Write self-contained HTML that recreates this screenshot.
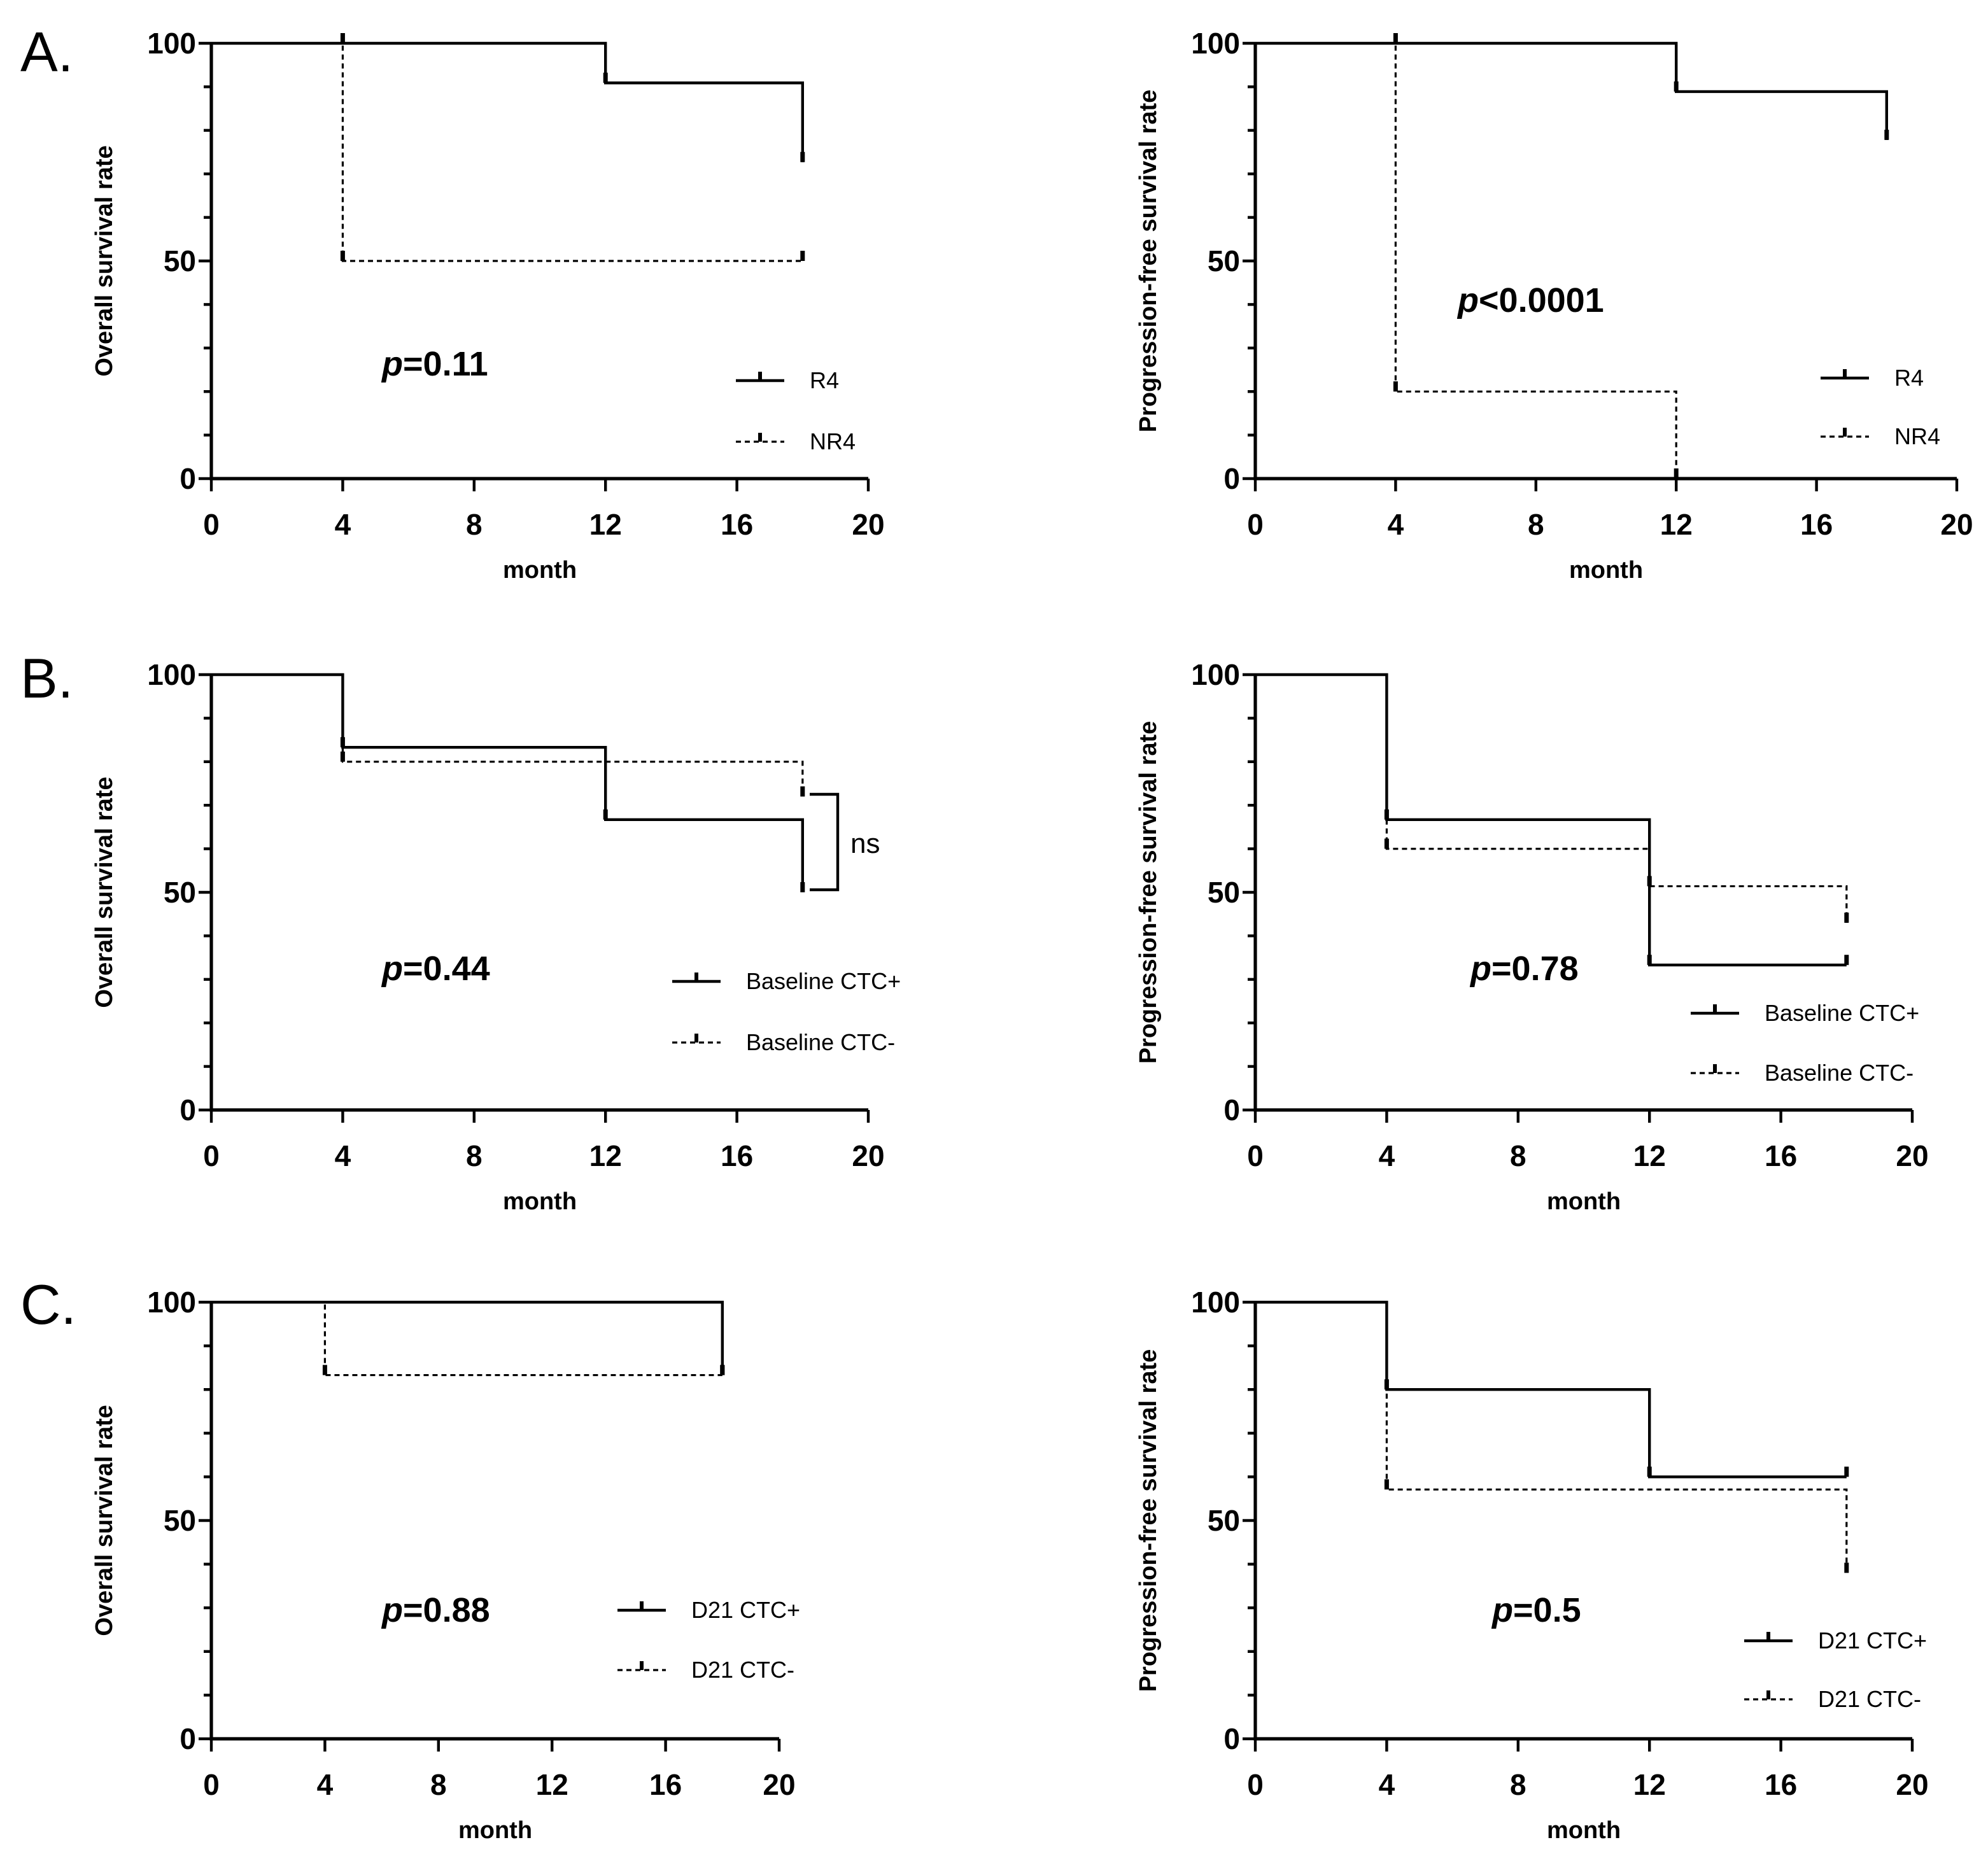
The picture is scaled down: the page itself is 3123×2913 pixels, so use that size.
<!DOCTYPE html>
<html><head><meta charset="utf-8"><style>
html,body{margin:0;padding:0;background:#fff;}
svg{display:block;}
text{font-family:"Liberation Sans",sans-serif;fill:#000;}
.tick{font-weight:bold;font-size:23px;}
.ttl{font-weight:bold;font-size:19px;}
.leg{font-size:18px;}
.pv{font-weight:bold;font-size:27px;}
.lab{font-size:44px;}
</style></head><body>
<svg id="fig" width="3123" height="2913" viewBox="0 0 1561.5 1456.5" xmlns="http://www.w3.org/2000/svg">
<text class="lab" x="16" y="56">A.</text>
<text class="lab" x="16" y="548">B.</text>
<text class="lab" x="16" y="1040">C.</text>
</svg>
<script>
// Panel A left (OS)
const aOsR4T=[0,12,18], aOsR4V=[100,90.9,72.7], aOsR4C=[[12,90.9],[18,72.7]];
const aOsNR4T=[0,4,18], aOsNR4V=[100,50,50], aOsNR4C=[[4,100],[4,50],[18,50]];
// Panel A right (PFS)
const aPfsR4T=[0,12,18], aPfsR4V=[100,88.9,77.8], aPfsR4C=[[12,88.9],[18,77.8]];
const aPfsNR4T=[0,4,12], aPfsNR4V=[100,20,0], aPfsNR4C=[[4,100],[4,20],[12,0]];
// Panel B left
const bOsPosT=[0,4,12,18], bOsPosV=[100,83.3,66.7,50], bOsPosC=[[4,83.3],[12,66.7],[18,50]];
const bOsNegT=[0,4,18], bOsNegV=[100,80,72], bOsNegC=[[4,80],[18,72]];
// Panel B right
const bPfsPosT=[0,4,12,18], bPfsPosV=[100,66.7,33.3,33.3], bPfsPosC=[[4,66.7],[12,33.3],[18,33.3]];
const bPfsNegT=[0,4,12,18], bPfsNegV=[100,60,51.4,43], bPfsNegC=[[4,60],[12,51.4],[18,43]];
// Panel C left
const cOsPosT=[0,18], cOsPosV=[100,83.3], cOsPosC=[[18,83.3]];
const cOsNegT=[0,4,18], cOsNegV=[100,83.3,83.3], cOsNegC=[[4,83.3],[18,83.3]];
// Panel C right
const cPfsPosT=[0,4,12,18], cPfsPosV=[100,80,60,60], cPfsPosC=[[4,80],[12,60],[18,60]];
const cPfsNegT=[0,4,18], cPfsNegV=[100,57.1,38], cPfsNegC=[[4,57.1],[18,38]];
const xTicks=[0,4,8,12,16,20];
const yTicks=[0,50,100];

const NS="http://www.w3.org/2000/svg";
const svg=document.getElementById('fig');
function mk(tag,attrs,parent){const e=document.createElementNS(NS,tag);for(const k in attrs)e.setAttribute(k,attrs[k]);(parent||svg).appendChild(e);return e;}

function panel(id,x0,x1,y100,y0,ytitle,p,pX,pY,legX,legY1,legY2,names,s1,s2){
  const g=mk('g',{});
  
  
  const sx=v=>x0+(x1-x0)*v/20, sy=v=>y0-(y0-y100)*v/100;
  const ax=mk('path',{d:`M${x0},${y100} V${y0} H${x1}`,stroke:'#000','stroke-width':2.6,fill:'none'},g);
  
  
  for(let v=0;v<=100;v+=10){mk('line',{x1:x0-(v%50?6:10),x2:x0,y1:sy(v),y2:sy(v),stroke:'#000','stroke-width':2.2},g);}
  yTicks.forEach(v=>{const t=mk('text',{x:x0-12,y:sy(v)+8,'text-anchor':'end',class:'tick'},g);t.textContent=v;
    
    });
  xTicks.forEach(v=>{mk('line',{x1:sx(v),x2:sx(v),y1:y0,y2:y0+10,stroke:'#000','stroke-width':2.2},g);
    const t=mk('text',{x:sx(v),y:y0+44,'text-anchor':'middle',class:'tick'},g);t.textContent=v;
    
    });
  const xt=mk('text',{x:(x0+x1)/2,y:y0+78,'text-anchor':'middle',class:'ttl'},g);xt.textContent='month';
  
  
  const cy=(y0+y100)/2, cx=x0-84;
  const yt=mk('text',{x:cx,y:cy,'text-anchor':'middle',class:'ttl',transform:`rotate(-90 ${cx} ${cy})`,dy:6},g);yt.textContent=ytitle;
  
  
  const pt=mk('text',{x:pX,y:pY,class:'pv'},g);
  const ps=mk('tspan',{'font-style':'italic'},pt);ps.textContent='p';
  const pr=mk('tspan',{},pt);pr.textContent=p;
  
  
  [s1,s2].forEach((s,i)=>{
    const [T,V,C]=s;let d=`M${sx(T[0])},${sy(V[0])}`;
    for(let k=1;k<T.length;k++){d+=` H${sx(T[k])} V${sy(V[k])}`;}
    const dash=i?{'stroke-dasharray':'4,3'}:{};
    const path=mk('path',Object.assign({d,stroke:'#000','stroke-width':i?1.6:2.2,fill:'none'},dash),g);
    
    
    C.forEach(c=>{const m=mk('line',{x1:sx(c[0]),x2:sx(c[0]),y1:sy(c[1]),y2:sy(c[1])-8,stroke:'#000','stroke-width':3.5},g);
      
      });
    const ly=i?legY2:legY1;
    const ll=mk('line',Object.assign({x1:legX,x2:legX+38,y1:ly,y2:ly,stroke:'#000','stroke-width':i?1.6:2.2},dash),g);
    
    
    mk('line',{x1:legX+19,x2:legX+19,y1:ly,y2:ly-7,stroke:'#000','stroke-width':3},g);
    const lt=mk('text',{x:legX+58,y:ly+6,class:'leg'},g);lt.textContent=names[i];
    
    
  });
  return g;
}
panel('panel-a-os',166,682,34,376,'Overall survival rate','=0.11',300,295,578,299,347,['R4','NR4'],[aOsR4T,aOsR4V,aOsR4C],[aOsNR4T,aOsNR4V,aOsNR4C]);
panel('panel-a-pfs',986,1537,34,376,'Progression-free survival rate','<0.0001',1145,245,1430,297,343,['R4','NR4'],[aPfsR4T,aPfsR4V,aPfsR4C],[aPfsNR4T,aPfsNR4V,aPfsNR4C]);
panel('panel-b-os',166,682,530,872,'Overall survival rate','=0.44',300,770,528,771,819,['Baseline CTC+','Baseline CTC-'],[bOsPosT,bOsPosV,bOsPosC],[bOsNegT,bOsNegV,bOsNegC]);
panel('panel-b-pfs',986,1502,530,872,'Progression-free survival rate','=0.78',1155,770,1328,796,843,['Baseline CTC+','Baseline CTC-'],[bPfsPosT,bPfsPosV,bPfsPosC],[bPfsNegT,bPfsNegV,bPfsNegC]);
panel('panel-c-os',166,612,1023,1366,'Overall survival rate','=0.88',300,1274,485,1265,1312,['D21 CTC+','D21 CTC-'],[cOsPosT,cOsPosV,cOsPosC],[cOsNegT,cOsNegV,cOsNegC]);
panel('panel-c-pfs',986,1502,1023,1366,'Progression-free survival rate','=0.5',1172,1274,1370,1289,1335,['D21 CTC+','D21 CTC-'],[cPfsPosT,cPfsPosV,cPfsPosC],[cPfsNegT,cPfsNegV,cPfsNegC]);
// ns bracket
const br=mk('path',{d:'M636,624 H658 V699 H636',stroke:'#000','stroke-width':2.2,fill:'none'});


const ns=mk('text',{x:668,y:670,style:'font-size:22px'});ns.textContent='ns';


</script>
</body></html>
